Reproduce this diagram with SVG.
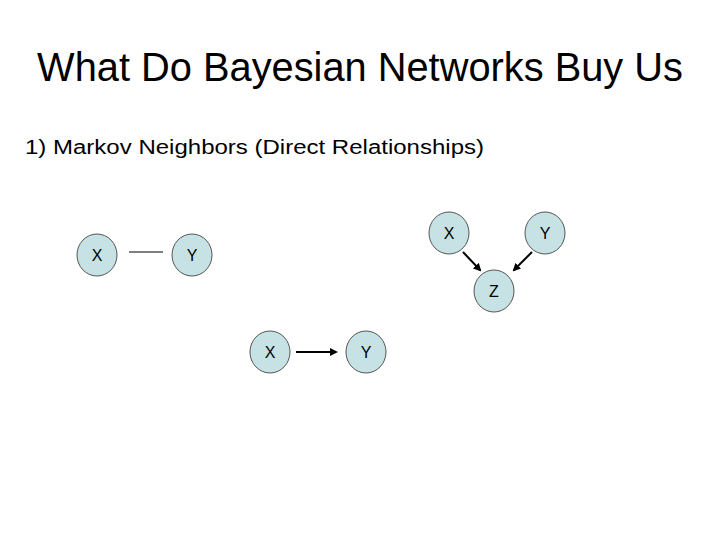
<svg xmlns="http://www.w3.org/2000/svg" width="720" height="540" viewBox="0 0 720 540">
<style>
.n{fill:#c6e2e4;stroke:#555;stroke-width:1}
.t{font-family:"Liberation Sans",Arial,sans-serif;font-size:16px;text-anchor:middle;fill:#000}
.c{stroke:#000;stroke-width:2;fill:none}
</style>
<defs><marker id="a" markerWidth="8" markerHeight="8" refX="6" refY="4" orient="auto" markerUnits="userSpaceOnUse"><path d="M0,0L8,4L0,8z" fill="#000"/></marker></defs>
<rect width="720" height="540" fill="#fff"/>
<text x="360" y="81" font-family="Liberation Sans,Arial,sans-serif" font-size="39.8" text-anchor="middle">What Do Bayesian Networks Buy Us</text>
<text x="25" y="154" font-family="Liberation Sans,Arial,sans-serif" font-size="20" textLength="459" lengthAdjust="spacingAndGlyphs">1) Markov Neighbors (Direct Relationships)</text>
<g id="connectors">
<line x1="129" y1="252" x2="163" y2="252" stroke="#000" stroke-width="1"/>
<line class="c" x1="463" y1="252" x2="480" y2="270" marker-end="url(#a)"/>
<line class="c" x1="532" y1="252" x2="514" y2="270" marker-end="url(#a)"/>
<line class="c" x1="296" y1="352" x2="336" y2="352" marker-end="url(#a)"/>
</g>
<g id="n1"><ellipse class="n" cx="97" cy="255" rx="20" ry="21"/><text class="t" x="97" y="261">X</text></g>
<g id="n2"><ellipse class="n" cx="192" cy="255" rx="20" ry="21"/><text class="t" x="192" y="261">Y</text></g>
<g id="n3"><ellipse class="n" cx="449" cy="233" rx="20" ry="21"/><text class="t" x="449" y="239">X</text></g>
<g id="n4"><ellipse class="n" cx="545" cy="233" rx="20" ry="21"/><text class="t" x="545" y="239">Y</text></g>
<g id="n5"><ellipse class="n" cx="494" cy="291" rx="20" ry="21"/><text class="t" x="494" y="297">Z</text></g>
<g id="n6"><ellipse class="n" cx="270" cy="352" rx="20" ry="21"/><text class="t" x="270" y="358">X</text></g>
<g id="n7"><ellipse class="n" cx="366" cy="352" rx="20" ry="21"/><text class="t" x="366" y="358">Y</text></g>
</svg>
